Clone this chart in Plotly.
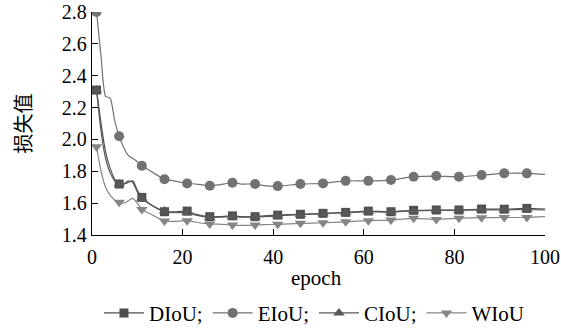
import plotly.graph_objects as go

# ---- data ----
line_epochs = [1, 2, 3, 4, 5, 6, 7, 8, 9, 10, 11, 13, 16, 18, 21, 23, 26, 28, 31, 33, 36, 38,
               41, 46, 51, 56, 61, 66, 71, 76, 81, 86, 91, 96, 100]
marker_epochs = [1, 6, 11, 16, 21, 26, 31, 36, 41, 46, 51, 56, 61, 66, 71, 76, 81, 86, 91, 96]

diou = [2.31, 2.10, 1.92, 1.82, 1.75, 1.72, 1.72, 1.73, 1.74, 1.68, 1.636, 1.59, 1.546, 1.545,
        1.55, 1.53, 1.515, 1.515, 1.52, 1.515, 1.515, 1.52, 1.525, 1.53, 1.536, 1.542, 1.55,
        1.546, 1.555, 1.557, 1.557, 1.563, 1.562, 1.567, 1.562]
eiou = [2.80, 2.52, 2.27, 2.26, 2.12, 2.02, 1.95, 1.90, 1.88, 1.86, 1.835, 1.80, 1.75, 1.74,
        1.724, 1.72, 1.709, 1.715, 1.728, 1.72, 1.72, 1.71, 1.707, 1.72, 1.724, 1.74, 1.74,
        1.745, 1.766, 1.77, 1.766, 1.776, 1.787, 1.787, 1.78]
ciou = [2.31, 2.05, 1.88, 1.79, 1.74, 1.72, 1.72, 1.74, 1.73, 1.67, 1.63, 1.59, 1.55, 1.54,
        1.54, 1.525, 1.51, 1.512, 1.515, 1.512, 1.513, 1.515, 1.52, 1.528, 1.533, 1.54, 1.547,
        1.543, 1.553, 1.555, 1.555, 1.558, 1.558, 1.56, 1.557]
wiou = [1.954, 1.80, 1.70, 1.65, 1.62, 1.605, 1.60, 1.615, 1.63, 1.60, 1.56, 1.53, 1.488, 1.485,
        1.49, 1.48, 1.469, 1.468, 1.463, 1.46, 1.463, 1.465, 1.467, 1.473, 1.477, 1.483, 1.49,
        1.494, 1.505, 1.498, 1.505, 1.509, 1.51, 1.51, 1.515]

series_names = ["DIoU;", "EIoU;", "CIoU;", "WIoU"]
x_ticks = [0, 20, 40, 60, 80, 100]
y_ticks = [1.4, 1.6, 1.8, 2.0, 2.2, 2.4, 2.6, 2.8]
x_title = "epoch"
y_title = "损失值"

series = [diou, eiou, ciou, wiou]
colors = ["#4f4f4f", "#727272", "#585858", "#858585"]
symbols = ["square", "circle", "triangle-up", "triangle-down"]
sizes = [9, 10, 10, 10]

fig = go.Figure()
for name, vals, col, sym, sz in zip(series_names, series, colors, symbols, sizes):
    fig.add_trace(go.Scatter(x=line_epochs, y=vals, mode="lines",
                             line=dict(color=col, width=1.2, shape="spline", smoothing=0.6),
                             showlegend=False, hoverinfo="skip"))
    mx = [e for e in line_epochs if e in marker_epochs]
    my = [v for e, v in zip(line_epochs, vals) if e in marker_epochs]
    fig.add_trace(go.Scatter(x=mx, y=my, mode="markers",
                             marker=dict(symbol=sym, size=sz, color=col, line=dict(width=0)),
                             showlegend=False))
    fig.add_trace(go.Scatter(x=[None], y=[None], mode="lines+markers", name=name,
                             line=dict(color=col, width=1.2),
                             marker=dict(symbol=sym, size=sz, color=col, line=dict(width=0))))

serif = "Liberation Serif, Times New Roman, serif"
tick_font = dict(family=serif, size=20, color="black")
text_font = dict(family=serif, size=21, color="black")
fig.update_layout(
    width=561, height=330,
    margin=dict(l=92, r=16, t=12, b=95, autoexpand=False),
    paper_bgcolor="white", plot_bgcolor="white",
    font=text_font,
    legend=dict(orientation="h", x=0.49, xanchor="center", y=-0.259, yanchor="top",
                font=text_font, itemwidth=40, tracegroupgap=0, bgcolor="rgba(0,0,0,0)"),
    annotations=[dict(text=x_title, xref="paper", yref="paper", x=0.495, y=-0.193,
                      xanchor="center", yanchor="middle", showarrow=False, font=text_font)],
)
fig.update_xaxes(range=[0, 100], tickvals=x_ticks, ticks="inside", ticklen=6, tickcolor="black",
                 showline=True, linecolor="black", linewidth=1.3, showgrid=False, zeroline=False,
                 automargin=False, ticklabelstandoff=4, tickfont=tick_font)
fig.update_yaxes(range=[1.4, 2.8], tickvals=y_ticks, tickformat=".1f", ticks="inside", ticklen=6,
                 tickcolor="black", showline=True, linecolor="black", linewidth=1.3,
                 showgrid=False, zeroline=False, tickfont=tick_font, automargin=False,
                 title=dict(text=y_title, standoff=24,
                            font=dict(family="Noto Sans CJK SC", size=20, color="black")))

fig.write_html("out.html", config={"displayModeBar": False},
               post_script="document.body.style.margin='0';document.body.style.overflow='hidden';")
